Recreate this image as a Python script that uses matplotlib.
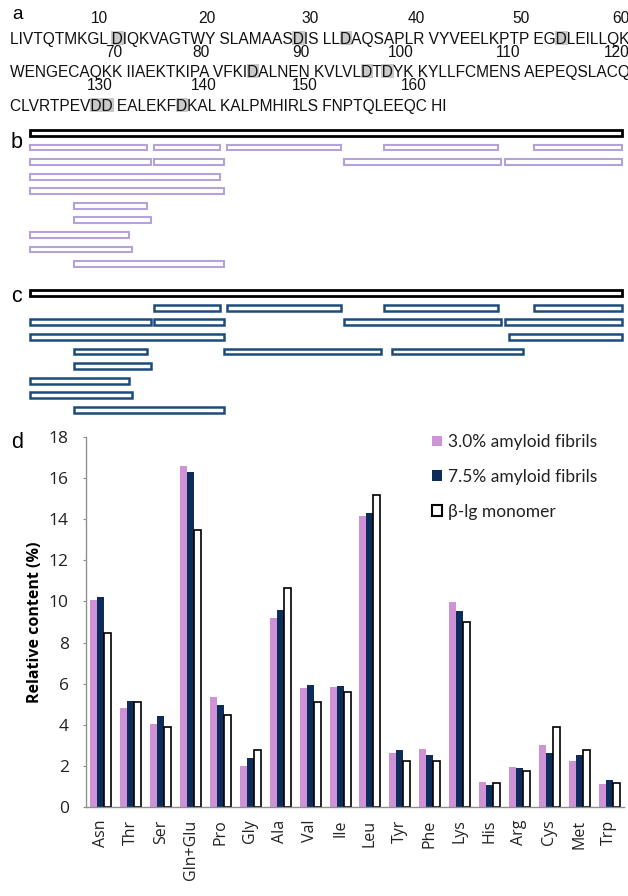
import matplotlib
matplotlib.use("Agg")
import numpy as np
import matplotlib.pyplot as plt
from matplotlib.patches import Patch, Rectangle
from matplotlib.transforms import Affine2D
from matplotlib.font_manager import FontProperties

# ---------------- data ----------------
seq_lines = [
    "LIVTQTMKGL DIQKVAGTWY SLAMAASDIS LLDAQSAPLR VYVEELKPTP EGDLEILLQK",
    "WENGECAQKK IIAEKTKIPA VFKIDALNEN KVLVLDTDYK KYLLFCMENS AEPEQSLACQ",
    "CLVRTPEVDD EALEKFDKAL KALPMHIRLS FNPTQLEEQC HI",
]
seq_len = 162
asp_sites = [11, 28, 33, 53, 85, 96, 98, 129, 130, 137]

# peptides: (row, first residue, last residue); row 0 = whole protein
pept_b = [(0, 1, 162),
          (1, 1, 32), (1, 35, 52), (1, 55, 85), (1, 98, 128), (1, 139, 162),
          (2, 1, 33), (2, 35, 53), (2, 87, 129), (2, 131, 162),
          (3, 1, 52), (4, 1, 53), (5, 13, 32), (6, 13, 33),
          (7, 1, 27), (8, 1, 28), (9, 13, 53)]
pept_c = [(0, 1, 162),
          (1, 35, 52), (1, 55, 85), (1, 98, 128), (1, 139, 162),
          (2, 1, 33), (2, 35, 53), (2, 87, 129), (2, 131, 162),
          (3, 1, 53), (3, 132, 162),
          (4, 13, 32), (4, 54, 96), (4, 100, 135),
          (5, 13, 33), (6, 1, 27), (7, 1, 28), (8, 13, 53)]

amino = ["Asn", "Thr", "Ser", "Gln+Glu", "Pro", "Gly", "Ala", "Val", "Ile",
         "Leu", "Tyr", "Phe", "Lys", "His", "Arg", "Cys", "Met", "Trp"]
fib30 = [10.05, 4.8, 4.05, 16.6, 5.35, 2.0, 9.2, 5.8, 5.85,
         14.15, 2.65, 2.8, 9.95, 1.2, 1.95, 3.0, 2.25, 1.1]
fib75 = [10.2, 5.15, 4.45, 16.3, 4.95, 2.4, 9.6, 5.95, 5.9,
         14.3, 2.75, 2.55, 9.55, 1.05, 1.9, 2.65, 2.55, 1.3]
mono = [8.45, 5.1, 3.9, 13.5, 4.5, 2.75, 10.65, 5.1, 5.6,
        15.2, 2.25, 2.25, 9.0, 1.15, 1.75, 3.9, 2.75, 1.15]
series_labels = ["3.0% amyloid fibrils", "7.5% amyloid fibrils", "\u03b2-lg monomer"]

# ---------------- style ----------------
W, H = 628, 896
PINK = "#cf92d6"
NAVY = "#0c2c5a"
PURPLE = "#b6a2da"
BLUE = "#1c4b7c"
AXGRAY = "#8f8f8f"

fig = plt.figure(figsize=(W / 100, H / 100), dpi=100)
fig.patch.set_facecolor("white")
pxT = Affine2D().scale(1, -1).translate(0, H)   # pixel coords from top-left


def add_ax(l, t, r, b):
    return fig.add_axes([l / W, 1 - b / H, (r - l) / W, (b - t) / H])


# ---------------- panel a: sequence ----------------
seq_prop = FontProperties(family="Liberation Sans", size=11.2)
renderer = fig.canvas.get_renderer()


def tw(s):
    w, h, d = renderer.get_text_width_height_descent(s, seq_prop, ismath=False)
    return w


x0 = 10
seq_base = [44, 77, 111]
num_base = [23, 57, 90]
for li, line in enumerate(seq_lines):
    # highlights
    for r in asp_sites:
        if (r - 1) // 60 != li:
            continue
        p = (r - 1) % 60
        ci = p + p // 10
        right = tw(line[:ci + 1])
        wd = tw(line[ci])
        fig.add_artist(Rectangle((x0 + right - wd - 0.5, seq_base[li] - 13), wd + 1.5, 14,
                                 transform=pxT, facecolor="#c9c9c9", edgecolor="none",
                                 zorder=1))
    fig.text(x0, seq_base[li], line, transform=pxT, fontproperties=seq_prop,
             va="baseline", ha="left", color="#111111", zorder=2)
    # numbers right-aligned over the 10th residue of each block
    ngroups = (len(line) + 1) // 11
    for g in range(ngroups):
        num = li * 60 + 10 * (g + 1)
        if num > seq_len:
            break
        ci = 10 * g + 9 + g
        fig.text(x0 + tw(line[:ci + 1]), num_base[li], str(num), transform=pxT,
                 fontproperties=seq_prop, va="baseline", ha="right", color="#111111")

letter_font = "Liberation Sans"
fig.text(12, 19, "a", transform=pxT, family=letter_font, size=13.5, va="baseline")
fig.text(11, 148, "b", transform=pxT, family=letter_font, size=15.5, va="baseline")
fig.text(11, 302, "c", transform=pxT, family=letter_font, size=15.5, va="baseline")
fig.text(11, 448, "d", transform=pxT, family=letter_font, size=15.5, va="baseline")


# ---------------- panels b, c: peptide maps ----------------
def peptide_panel(ax, peps, color, lw):
    nrows = max(p[0] for p in peps) + 1
    for row, s, e in peps:
        if row == 0:
            ax.barh(row, e - s + 1, left=s - 1, height=0.42, facecolor="white",
                    edgecolor="black", linewidth=2.0, clip_on=False)
        else:
            ax.barh(row, e - s + 1, left=s - 1, height=0.40, facecolor="white",
                    edgecolor=color, linewidth=lw, clip_on=False)
    ax.set_xlim(0, seq_len)
    ax.set_ylim(nrows - 0.5, -0.5)
    ax.axis("off")


sp = 14.56
axb = add_ax(30, 133 - sp / 2, 622, 264 + sp / 2)
peptide_panel(axb, pept_b, PURPLE, 1.5)
sp = 14.6
axc = add_ax(30, 293 - sp / 2, 622, 410 + sp / 2)
peptide_panel(axc, pept_c, BLUE, 1.8)

# ---------------- panel d: amino acid composition ----------------
ax = add_ax(86, 437, 624, 807)
x = np.arange(len(amino))
bw = 0.235
ax.bar(x - bw, fib30, bw, color=PINK, label=series_labels[0])
ax.bar(x, fib75, bw, color=NAVY, label=series_labels[1])
ax.bar(x + bw, mono, bw, facecolor="white", edgecolor="black", linewidth=1.2,
       label=series_labels[2])
ax.set_xlim(-0.5, len(amino) - 0.5)
ax.set_ylim(0, 18)
ax.set_yticks(range(0, 19, 2))
for s in ["top", "right"]:
    ax.spines[s].set_visible(False)
for s in ["left", "bottom"]:
    ax.spines[s].set_color(AXGRAY)
    ax.spines[s].set_linewidth(1.0)
ax.set_xticks(x)
ax.set_xticklabels(amino, rotation=90, family="Open Sans", fontsize=11.5, color="#222222")
ax.tick_params(axis="x", length=0, pad=9)
ax.tick_params(axis="y", length=2.5, color=AXGRAY, pad=10, labelsize=12.5,
               labelcolor="#222222")
for lab in ax.get_yticklabels():
    lab.set_family("Open Sans")
ax.set_ylabel("Relative content (%)", family="Open Sans", fontweight="bold",
              fontsize=11.5, labelpad=4)

handles = [Patch(facecolor=PINK, edgecolor="none"),
           Patch(facecolor=NAVY, edgecolor="none"),
           Patch(facecolor="white", edgecolor="black", linewidth=1.5)]
leg = ax.legend(handles, series_labels, loc="upper left",
                bbox_to_anchor=(432, 434), bbox_transform=pxT,
                frameon=False, borderpad=0, borderaxespad=0,
                handlelength=0.55, handleheight=0.55, handletextpad=0.4,
                labelspacing=1.08, prop=FontProperties(family="Lato", size=12.5))
for t in leg.get_texts():
    t.set_color("#222222")

fig.savefig("out.png", dpi=100, facecolor="white")
